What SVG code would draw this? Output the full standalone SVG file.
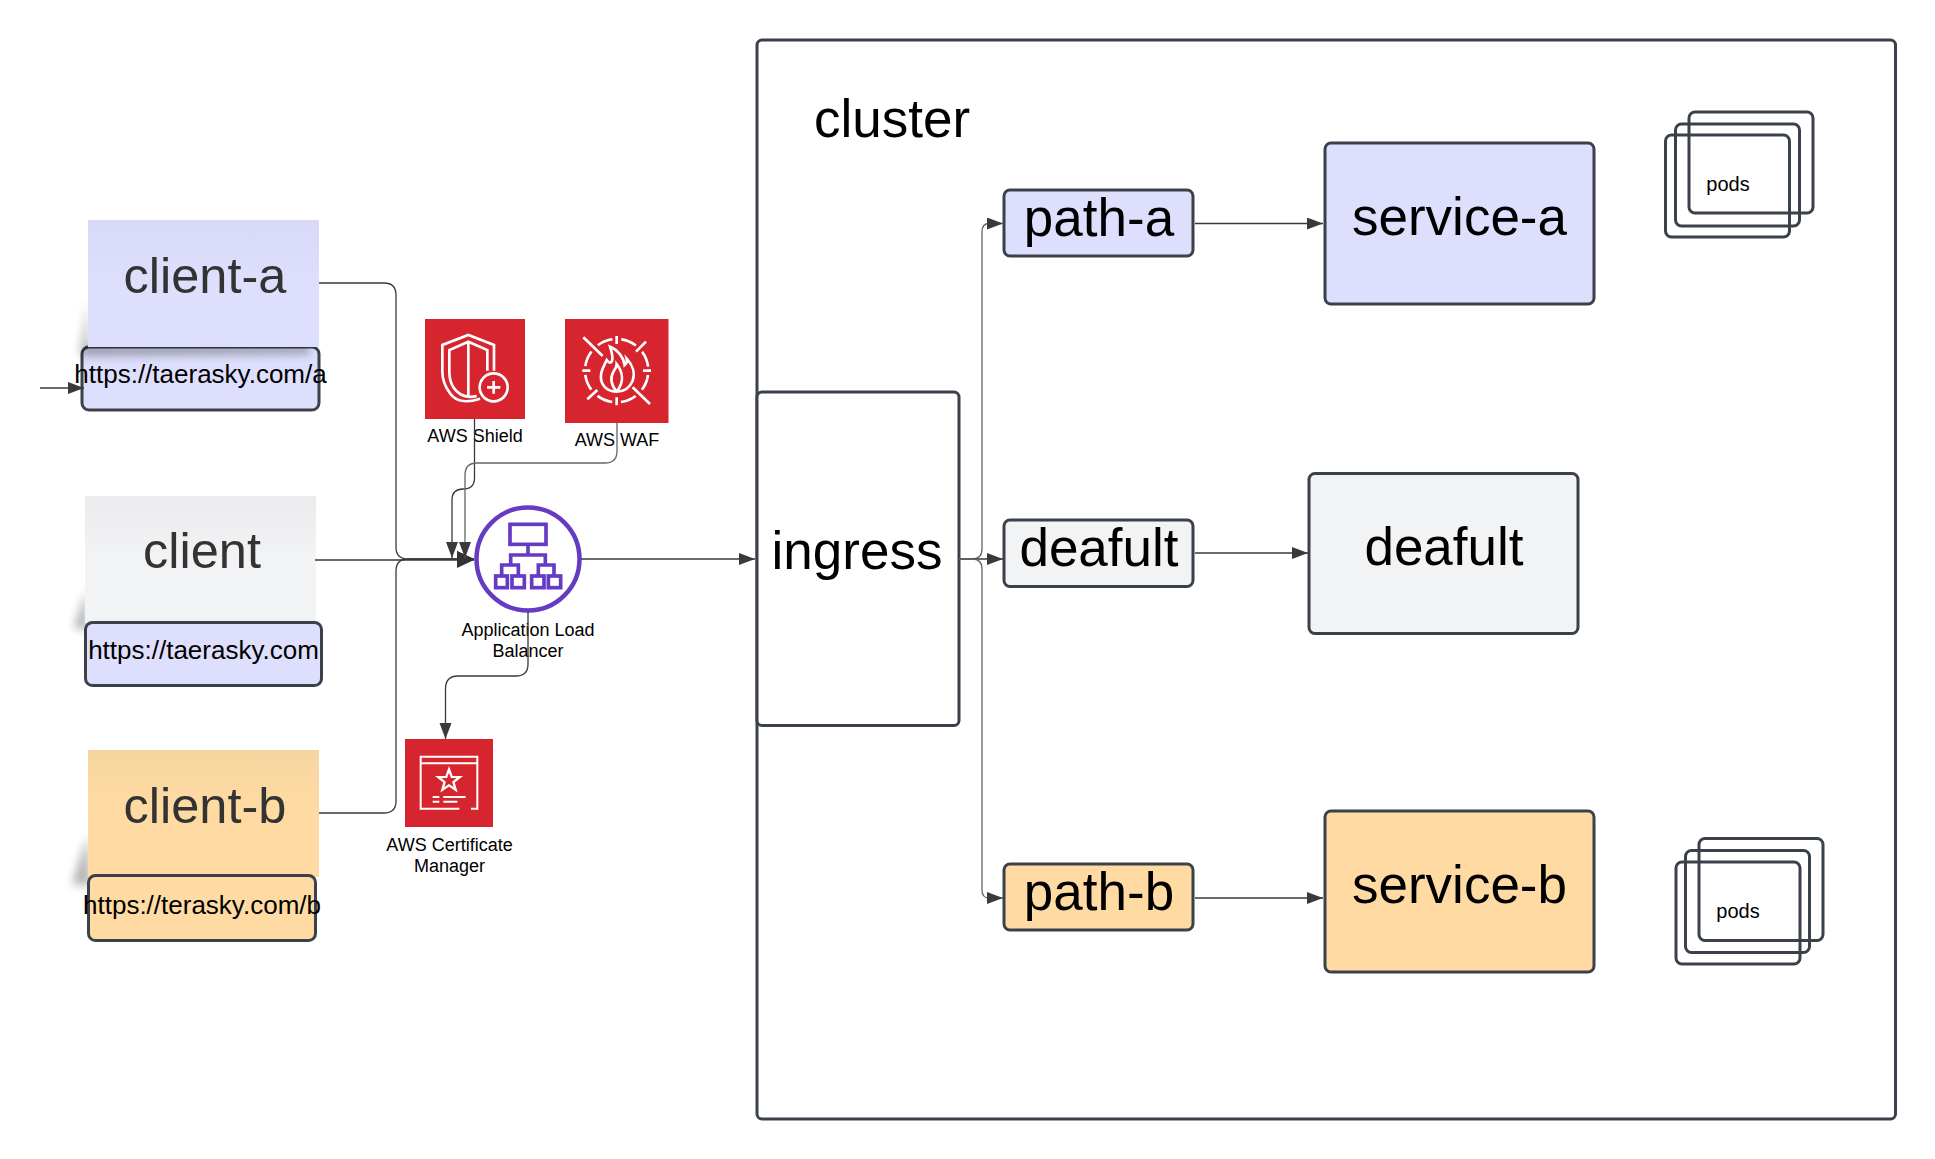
<svg xmlns="http://www.w3.org/2000/svg" width="1935" height="1159" viewBox="0 0 1935 1159">
<style>
text{font-family:"Liberation Sans",Arial,sans-serif;fill:#000;text-anchor:middle}
.big{font-size:53px}.note{font-size:50.5px;fill:#333}.url{font-size:26px}.lbl{font-size:18px}.pod{font-size:20px}
.box{stroke:#3a414a;stroke-width:3}
.lav{fill:#dedffc}.gry{fill:#f2f3f5}.org{fill:#ffdba3}
.pods rect{fill:none;stroke:#3a414a;stroke-width:3}
.c{fill:none;stroke:#3a3a3a;stroke-width:1.3}
.ico{fill:none;stroke:#fff;stroke-width:8}
.red{fill:#d6252e}
.shadow{fill:#000;opacity:.3;filter:url(#blur)}
</style>
<defs>
<filter id="blur" x="-40%" y="-40%" width="180%" height="180%"><feGaussianBlur stdDeviation="5"/></filter>
<linearGradient id="gl" x1="0" y1="0" x2="0" y2="1"><stop offset="0" stop-color="#d8d9f7"/><stop offset=".5" stop-color="#dedffc"/></linearGradient>
<linearGradient id="gg" x1="0" y1="0" x2="0" y2="1"><stop offset="0" stop-color="#ebebed"/><stop offset=".5" stop-color="#f2f3f5"/></linearGradient>
<linearGradient id="go" x1="0" y1="0" x2="0" y2="1"><stop offset="0" stop-color="#f6d6a0"/><stop offset=".5" stop-color="#ffdba3"/></linearGradient>
<marker id="a" markerUnits="userSpaceOnUse" markerWidth="18" markerHeight="14" refX="16" refY="6" orient="auto"><path d="M0 0L16 6L0 12Z" fill="#3a3a3a"/></marker>
<marker id="ab" markerUnits="userSpaceOnUse" markerWidth="20" markerHeight="18" refX="17" refY="8" orient="auto"><path d="M0 0L17 8L0 16Z" fill="#333"/></marker>
</defs>
<rect width="1935" height="1159" fill="#fff"/>

<g id="cluster">
<rect class="box" x="757" y="40" width="1138.500" height="1079" rx="5" fill="#fff"/>
<text class="big" x="892" y="137">cluster</text>
</g>

<g id="client-a-url">
<rect class="box lav" x="82" y="347" width="237" height="63" rx="7"/>
</g>
<g id="client-a">
<path class="shadow" d="M88 300L80 356L310 354L310 344L88 344Z"/>
<rect x="88" y="220" width="231" height="127" fill="url(#gl)"/>
<text class="note" x="205" y="293">client-a</text>
</g>
<text id="client-a-url-text" class="url" x="200.500" y="383">https://taerasky.com/a</text>

<g id="client">
<path class="shadow" d="M86 590L74 628L88 630Z"/>
<rect x="85" y="496" width="231" height="127" fill="url(#gg)"/>
<text class="note" x="202" y="568">client</text>
</g>
<g id="client-url">
<rect class="box lav" x="85.500" y="622.500" width="236" height="63" rx="7"/>
<text class="url" x="203.500" y="659">https://taerasky.com</text>
</g>

<g id="client-b">
<path class="shadow" d="M88 835L72 884L90 886Z"/>
<rect x="88" y="750" width="231" height="127" fill="url(#go)"/>
<text class="note" x="205" y="823">client-b</text>
</g>
<g id="client-b-url">
<rect class="box org" x="88.500" y="875.500" width="227" height="65" rx="7"/>
<text class="url" x="202" y="913.500">https://terasky.com/b</text>
</g>

<g id="aws-shield">
<rect class="red" x="425" y="319" width="100" height="100"/>
<g class="ico" transform="translate(410 300) scale(.33333)">
<path d="M210 296C180 306 140 310 120 280C102 255 97 235 97 215V135L175 105L252 135V212"/>
<path d="M200 288C170 295 145 285 130 262C120 245 118 230 118 215V150L175 125L232 150V212"/>
<path d="M175 125V288"/>
<circle cx="251" cy="262" r="42"/>
<path d="M231 262H271M251 243V281"/>
</g>
<text class="lbl" x="475" y="441.500">AWS Shield</text>
</g>

<g id="aws-waf">
<rect class="red" x="565" y="319" width="103.500" height="104"/>
<g class="ico" transform="translate(410 300) scale(.33333)">
<circle cx="620" cy="212" r="95" stroke-dasharray="48.100 26.500" stroke-dashoffset="-13.260"/>
<path d="M620 108V132M620 292V316M517 212H541M699 212H723"/>
<path d="M520 112L578 168M708 125L678 155M532 298L562 270M668 262L720 312"/>
<path d="M620 275C582 275 568 245 574 218C578 203 583 195 590 180C598 190 602 190 606 183C610 168 605 155 600 140C625 150 642 175 644 195C650 190 652 185 650 176C668 195 676 220 668 242C658 265 640 275 620 275Z"/>
<path d="M620 275C603 255 598 235 612 212C618 205 620 198 620 192C638 215 644 245 620 275"/>
</g>
<text class="lbl" x="617" y="446">AWS WAF</text>
</g>

<g id="alb">
<circle cx="528" cy="559" r="51.500" fill="#fff" stroke="#653bc4" stroke-width="4.500"/>
<g fill="none" stroke="#653bc4" stroke-width="11" transform="translate(390 490) scale(.33333)">
<rect x="360" y="103" width="108" height="60"/>
<path d="M414 163V195M362 225V195H466V225M335 258V225H385V258M445 258V225H492V258"/>
<rect x="317" y="258" width="35" height="35"/><rect x="366" y="258" width="37" height="35"/><rect x="425" y="258" width="37" height="35"/><rect x="475" y="258" width="37" height="35"/>
</g>
<text class="lbl" x="528" y="635.500">Application Load</text>
<text class="lbl" x="528" y="657">Balancer</text>
</g>

<g id="aws-acm">
<rect class="red" x="405" y="739" width="88" height="88"/>
<g fill="none" stroke="#fff" stroke-width="6" transform="translate(380 720) scale(.33333)">
<path d="M238 266H122V110H292V266H273M122 130H292"/>
<path d="M207 148L215.200 170.700L239.300 171.500L220.300 186.300L227 209.500L207 196L187 209.500L193.700 186.300L174.700 171.500L198.800 170.700Z" stroke-width="7"/>
<path d="M158 231H178M190 231H257M158 245H178M190 245H232"/>
</g>
<text class="lbl" x="449.500" y="851">AWS Certificate</text>
<text class="lbl" x="449.500" y="872">Manager</text>
</g>

<g id="ingress">
<rect class="box" x="757" y="392" width="202" height="333.500" rx="5" fill="#fff"/>
<text class="big" x="857" y="569">ingress</text>
</g>

<g id="path-a">
<rect class="box lav" x="1004" y="190" width="189" height="66" rx="6"/>
<text class="big" x="1099" y="236">path-a</text>
</g>
<g id="path-default">
<rect class="box gry" x="1004" y="520" width="189" height="66.500" rx="6"/>
<text class="big" x="1099" y="566">deafult</text>
</g>
<g id="path-b">
<rect class="box org" x="1004" y="864" width="189" height="66" rx="6"/>
<text class="big" x="1099" y="910">path-b</text>
</g>

<g id="service-a">
<rect class="box lav" x="1325" y="143" width="269" height="161" rx="6"/>
<text class="big" x="1459.500" y="235">service-a</text>
</g>
<g id="service-default">
<rect class="box gry" x="1309" y="473.500" width="269" height="160" rx="6"/>
<text class="big" x="1444" y="564.500">deafult</text>
</g>
<g id="service-b">
<rect class="box org" x="1325" y="811" width="269" height="161" rx="6"/>
<text class="big" x="1459.500" y="903">service-b</text>
</g>

<g id="pods-a" class="pods">
<rect x="1689" y="112" width="124" height="101" rx="6"/>
<rect x="1675.500" y="124" width="124" height="102" rx="6"/>
<rect x="1665.500" y="135" width="124" height="102" rx="6"/>
<text class="pod" x="1728" y="191">pods</text>
</g>
<g id="pods-b" class="pods">
<rect x="1699" y="838.500" width="124" height="102" rx="6"/>
<rect x="1685.500" y="850.500" width="124" height="102" rx="6"/>
<rect x="1676" y="862" width="124" height="102" rx="6"/>
<text class="pod" x="1738" y="917.500">pods</text>
</g>

<g id="connectors">
<path class="c" d="M40 388H84" marker-end="url(#a)"/>
<path class="c" d="M319 283H384Q396 283 396 295V547Q396 559 408 559H474" marker-end="url(#ab)"/>
<path class="c" d="M319 813H384Q396 813 396 801V571Q396 559 408 559H474" marker-end="url(#ab)"/>
<path class="c" d="M315 560H474" marker-end="url(#ab)"/>
<path class="c" d="M474.500 419V478Q474.500 489 463 489Q452 489 452 500V558" marker-end="url(#a)"/>
<path class="c" d="M617 423V451Q617 463 605 463H477Q465 463 465 475V558" marker-end="url(#a)" style="stroke:#666"/>
<path class="c" d="M528 612V664Q528 676 516 676H458Q445.500 676 445.500 689V739" marker-end="url(#a)"/>
<path class="c" d="M581 559H755" marker-end="url(#a)"/>
<path class="c" d="M959 559H972Q982 559 982 549V232Q982 223.500 989 223.500H1003" marker-end="url(#a)" style="stroke:#666"/>
<path class="c" d="M959 559H1003" marker-end="url(#a)"/>
<path class="c" d="M959 559H972Q982 559 982 569V890Q982 898 989 898H1003" marker-end="url(#a)" style="stroke:#666"/>
<path class="c" d="M1195 223.500H1323" marker-end="url(#a)"/>
<path class="c" d="M1195 553H1308" marker-end="url(#a)"/>
<path class="c" d="M1195 898H1323" marker-end="url(#a)"/>
</g>
</svg>
